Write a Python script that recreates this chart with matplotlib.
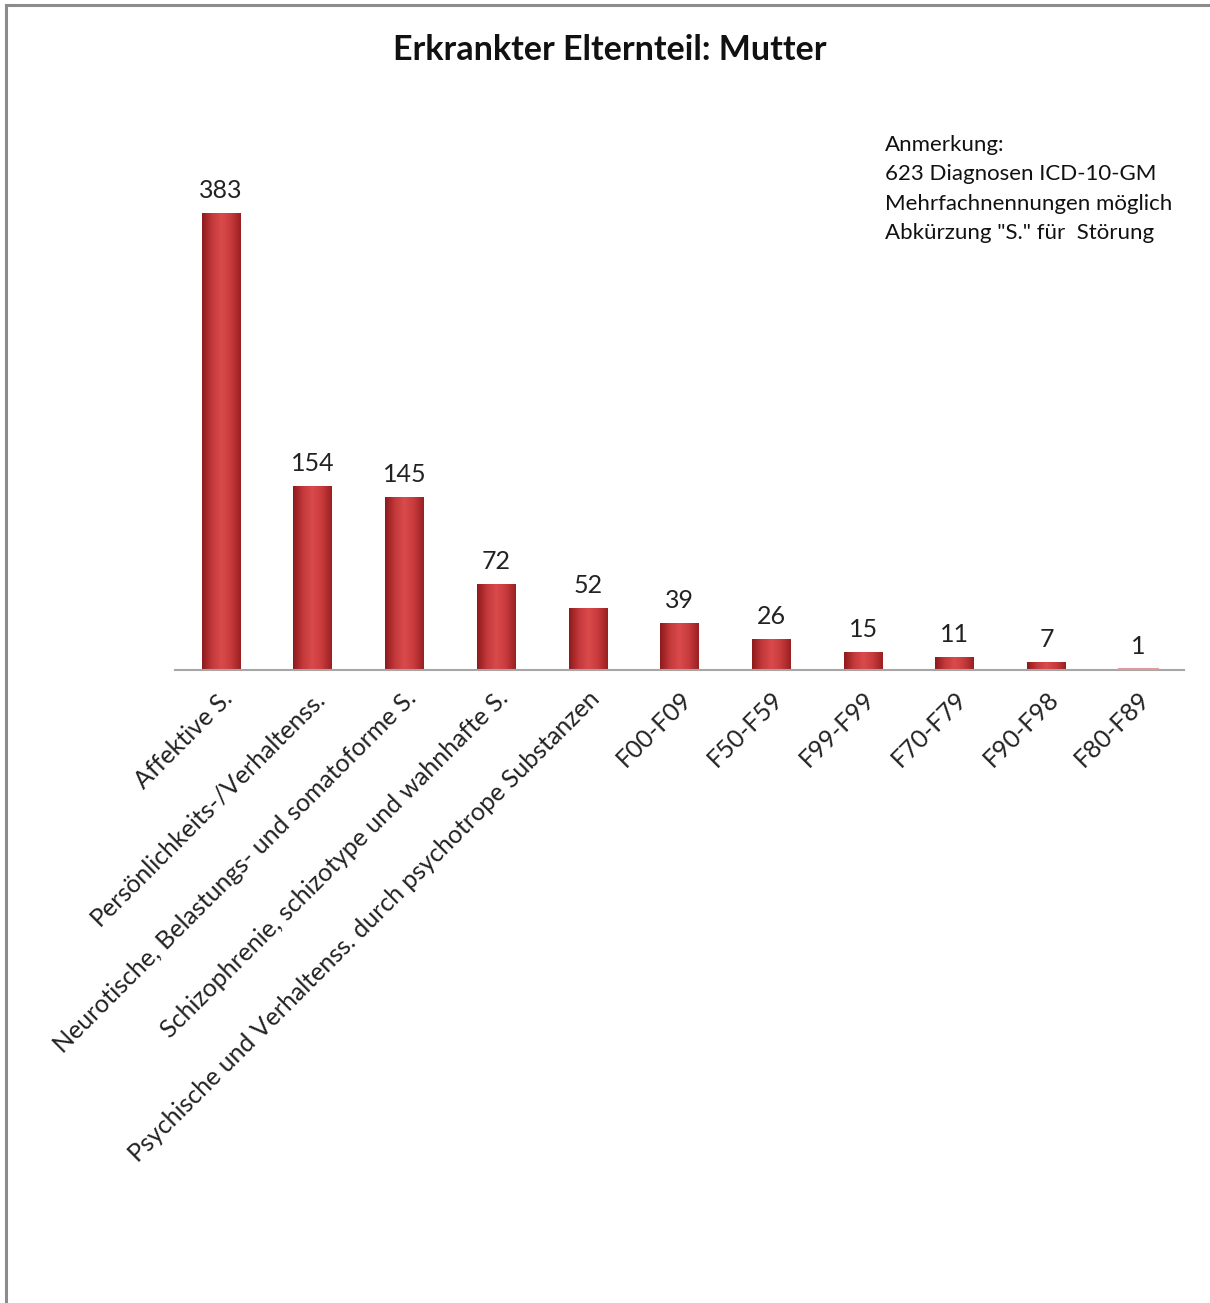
import numpy as np
import matplotlib.pyplot as plt
from matplotlib.colors import LinearSegmentedColormap
from matplotlib.lines import Line2D

categories = [
    "Affektive S.",
    "Persönlichkeits-/Verhaltenss.",
    "Neurotische, Belastungs- und somatoforme S.",
    "Schizophrenie, schizotype und wahnhafte S.",
    "Psychische und Verhaltenss. durch psychotrope Substanzen",
    "F00-F09",
    "F50-F59",
    "F99-F99",
    "F70-F79",
    "F90-F98",
    "F80-F89",
]
counts = [383, 154, 145, 72, 52, 39, 26, 15, 11, 7, 1]

title = "Erkrankter Elternteil: Mutter"
note_lines = [
    "Anmerkung:",
    "623 Diagnosen ICD-10-GM",
    "Mehrfachnennungen möglich",
    'Abkürzung "S." für  Störung',
]

plt.rcParams["font.family"] = ["Lato", "DejaVu Sans"]

fig = plt.figure(figsize=(12.1, 13.03), dpi=100)
ax = fig.add_axes([0.1446, 0.4858, 0.834, 0.3845])

x = np.arange(len(categories))
bars = ax.bar(x, counts, width=0.42, color="none", edgecolor="none", zorder=2)

# horizontal shading to give the bars a rounded look
shade = LinearSegmentedColormap.from_list(
    "bar_shade", ["#8E1A1C", "#C3393B", "#D94A4B", "#C83B3D", "#9A2022"])
grad = np.linspace(0, 1, 64).reshape(1, -1)
for b in bars:
    x0, y0 = b.get_x(), b.get_y()
    w, h = b.get_width(), b.get_height()
    im = ax.imshow(grad, cmap=shade, aspect="auto", zorder=2,
                   extent=(x0, x0 + w, y0, y0 + h), interpolation="bicubic")
    im.set_clip_path(b)
    if h < 3:
        # very small bars only show the light top face
        b.set_facecolor("#E39A9B")
        b.set_edgecolor("#E39A9B")
        b.set_linewidth(1.5)
        b.set_zorder(4)
    ax.annotate(f"{h:g}", (x0 + w / 2, h), xytext=(0, 8),
                textcoords="offset points", ha="center", va="bottom",
                fontsize=18, color="#222222")

ax.set_xlim(-0.5, len(categories) - 0.5)
ax.set_ylim(0, 420)
ax.set_yticks([])
ax.set_xticks(x)
ax.set_xticklabels(categories, rotation=45, ha="right", va="top",
                   rotation_mode="anchor", fontsize=18, color="#222222")
ax.tick_params(axis="x", length=0, pad=12)
for s in ["top", "right", "left"]:
    ax.spines[s].set_visible(False)
ax.spines["bottom"].set_color("#A6A6A6")
ax.spines["bottom"].set_linewidth(1.5)
ax.spines["bottom"].set_zorder(3)

fig.text(0.504, 0.962, title, ha="center", va="center",
         fontsize=24.5, fontweight="bold", color="#111111")

for i, line in enumerate(note_lines):
    fig.text(0.731, 0.889 - i * 0.0226, line, ha="left", va="center",
             fontsize=16, color="#111111")

# outer frame: top and left edges only
fig.add_artist(Line2D([0.0048, 1.0], [0.9962, 0.9962], transform=fig.transFigure,
                      color="#8C8C8C", linewidth=2.2))
fig.add_artist(Line2D([0.0050, 0.0050], [0.0, 0.9962], transform=fig.transFigure,
                      color="#8C8C8C", linewidth=2.2))

fig.savefig("out.png", dpi=100, facecolor="white")
